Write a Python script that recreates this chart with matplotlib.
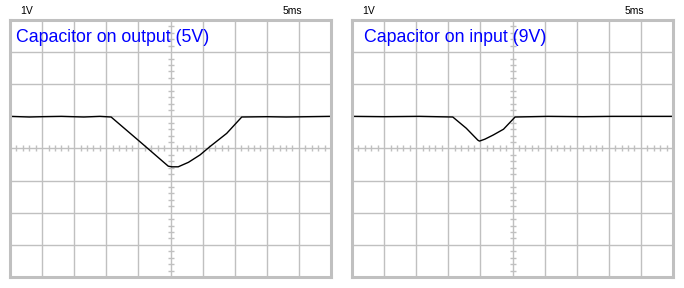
import matplotlib.pyplot as plt

# trace data in scope divisions (x: 0..10, y: -4..4)
out_x = [0, 0.6, 1.0, 1.6, 2.3, 2.8, 3.15, 4.05, 4.93, 5.04, 5.24, 5.56, 5.92, 6.23, 6.75, 7.22, 8.0, 8.6, 9.3, 10]
out_y = [1.0, 0.98, 0.99, 1.0, 0.98, 1.0, 0.98, 0.21, -0.55, -0.57, -0.57, -0.43, -0.2, 0.06, 0.47, 0.98, 0.99, 0.98, 0.99, 1.0]

in_x = [0, 1.0, 2.1, 3.14, 3.56, 3.92, 3.97, 4.14, 4.40, 4.72, 5.08, 6.1, 7.2, 8.1, 10]
in_y = [1.0, 0.99, 1.0, 0.98, 0.63, 0.26, 0.23, 0.29, 0.42, 0.60, 0.98, 1.0, 0.99, 1.0, 1.0]

titles = ["Capacitor on output (5V)", "Capacitor on input (9V)"]
volt_label = "1V"
time_label = "5ms"

grid_col = "#c0c0c0"

fig = plt.figure(figsize=(6.84, 2.88), dpi=100)


def scope(left, xs, ys, title, tx):
    ax = fig.add_axes([left, 0.0382, 0.4693, 0.8924])
    ax.set_xlim(0, 10)
    ax.set_ylim(-4, 4)
    ax.set_xticks([])
    ax.set_yticks([])
    for s in ax.spines.values():
        s.set_color(grid_col)
        s.set_linewidth(2.2)
    for i in range(1, 10):
        ax.axvline(i, color=grid_col, lw=1)
    for j in range(-3, 4):
        ax.axhline(j, color=grid_col, lw=1)
    # minor ticks on the centre lines
    mx = [i + k / 5 for i in range(10) for k in range(1, 5)]
    ax.plot(mx, [0] * len(mx), ls="none", marker="|", ms=4, mew=1, color=grid_col)
    my = [j + k / 5 for j in range(-4, 4) for k in range(1, 5)]
    ax.plot([5] * len(my), my, ls="none", marker="_", ms=4, mew=1, color=grid_col)
    ax.plot(xs, ys, color="black", lw=1)
    ax.text(tx, 0.914, title, transform=ax.transAxes, color="#0000ff",
            fontsize=12.8, family="Liberation Sans", va="baseline", ha="left")
    ax.text(0.033, 1.035, volt_label, transform=ax.transAxes, fontsize=7.5,
            family="Liberation Sans", va="center", ha="left")
    ax.text(0.85, 1.035, time_label, transform=ax.transAxes, fontsize=7.5,
            family="Liberation Sans", va="center", ha="left")
    return ax


scope(10 / 684, out_x, out_y, titles[0], 0.019)
scope(352 / 684, in_x, in_y, titles[1], 0.036)

fig.savefig("out.png", dpi=100)
